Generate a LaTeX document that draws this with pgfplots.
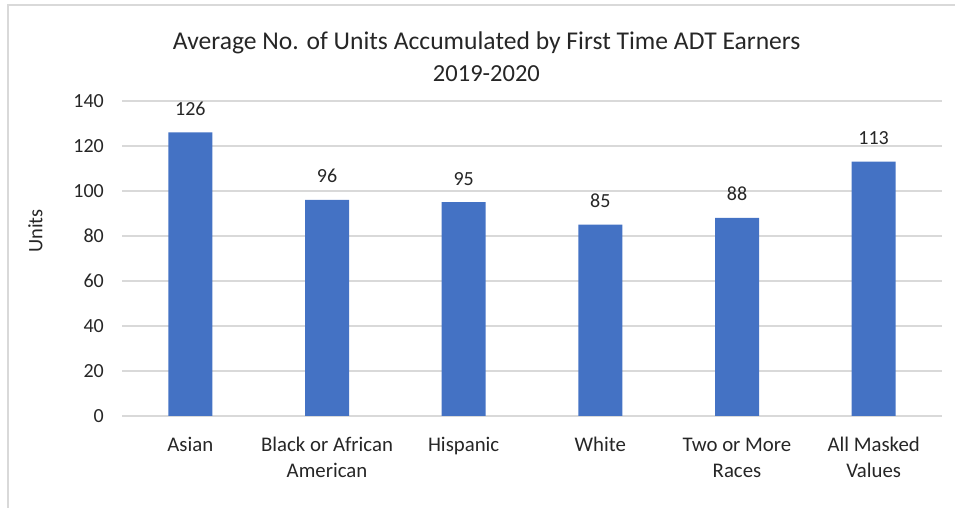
\documentclass[border=0pt]{standalone}
\usepackage{pgfplots}
\pgfplotsset{compat=1.18}
\usepackage{fontspec}
\setmainfont{Carlito}
\definecolor{barblue}{HTML}{4472C4}
\definecolor{gridgray}{HTML}{D9D9D9}
\newcommand{\st}{\vphantom{Bl}}
\begin{document}
\begin{tikzpicture}
\path[use as bounding box] (0pt,0pt) rectangle (955pt,508pt);
\draw[gridgray, line width=1.2pt] (8pt,-2pt) -- (8pt,503pt) -- (958pt,503pt);
\node[anchor=base, inner sep=0pt, font=\fontsize{25.6}{29}\selectfont, text=black!85] at (486.7pt,458.7pt) {Average No. of Units Accumulated by First Time ADT Earners};
\node[anchor=base, inner sep=0pt, font=\fontsize{24.5}{29}\selectfont, text=black!85] at (486.4pt,426.3pt) {2019-2020};
\begin{axis}[
  at={(122pt,92pt)}, anchor=south west,
  scale only axis, width=820pt, height=315pt,
  xmin=-0.5, xmax=5.5, ymin=0, ymax=140,
  ytick={0,20,...,140},
  xtick=data,
  xticklabels={\st Asian, \st Black or African\\American, \st Hispanic, \st White, \st Two or More\\Races, \st All Masked\\Values},
  major tick length=0pt,
  axis line style={draw=none},
  ymajorgrids, grid style={gridgray, line width=1.2pt},
  tick label style={text=black!85, inner sep=0pt},
  yticklabel style={font=\fontsize{20}{24}\selectfont},
  /pgf/number format/assume math mode=true,
  yticklabel style={anchor=east, xshift=-18pt},
  xticklabel style={font=\fontsize{20.8}{25.4}\selectfont, align=center, anchor=north, yshift=-21pt},
  ylabel={Units},
  every axis y label/.style={at={(rel axis cs:0,0.5)}, xshift=-86.5pt, yshift=27.5pt, rotate=90, anchor=center, font=\fontsize{20.5}{24}\selectfont, text=black!85},
  nodes near coords,
  every node near coord/.append style={font=\fontsize{20}{24}\selectfont, text=black!85, anchor=base, inner sep=0pt, yshift=17pt},
]
\addplot[ybar, bar width=44pt, fill=barblue, draw=none] coordinates {(0,126) (1,96) (2,95) (3,85) (4,88) (5,113)};
\end{axis}
\end{tikzpicture}
\end{document}
